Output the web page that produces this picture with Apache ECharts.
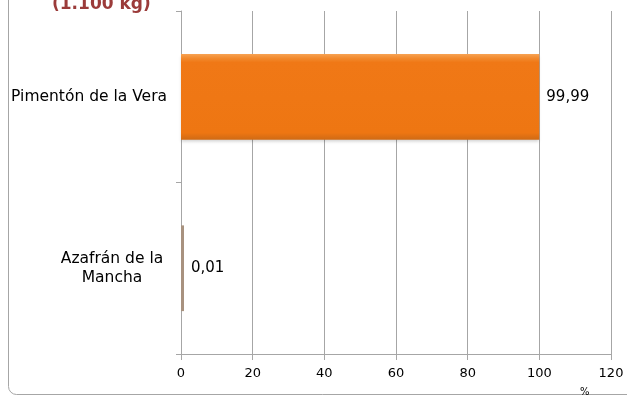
<!DOCTYPE html>
<html>
<head>
<meta charset="utf-8">
<script src="https://cdn.jsdelivr.net/npm/echarts@6/dist/echarts.min.js"></script>
<style>
  html, body { margin: 0; padding: 0; background: #fff; }
  #chart { width: 627px; height: 396px; }
</style>
</head>
<body>
<div id="chart"></div>
<script>
// Shares (%) of certified production by protected designation
const categories = ['Azafrán de la Mancha', 'Pimentón de la Vera'];
const shares = [0.01, 99.99];
const xTicks = [0, 20, 40, 60, 80, 100, 120];
const subtitle = '(1.100 kg)';
const unitLabel = '%';

const FONT = '"DejaVu Sans", Tahoma, sans-serif';
const GRID = '#a6a6a6';

const orangeFill = new echarts.graphic.LinearGradient(0, 0, 0, 1, [
  { offset: 0, color: '#f7a354' },
  { offset: 0.05, color: '#f28a2e' },
  { offset: 0.1, color: '#f07816' },
  { offset: 0.92, color: '#ee7612' },
  { offset: 1, color: '#d06a14' }
]);
const barStyles = [
  { color: '#a8927f' },
  { color: orangeFill, shadowColor: 'rgba(0,0,0,0.18)', shadowBlur: 3, shadowOffsetY: 2 }
];

const fmt = v => v.toFixed(2).replace('.', ',');

const chart = echarts.init(document.getElementById('chart'), null, { renderer: 'canvas' });
chart.setOption({
  animation: false,
  backgroundColor: '#fff',
  grid: { left: 181, right: 16, top: 11, bottom: 42, containLabel: false },
  xAxis: {
    type: 'value',
    min: xTicks[0],
    max: xTicks[xTicks.length - 1],
    interval: xTicks[1] - xTicks[0],
    axisLine: { show: true, lineStyle: { color: GRID, width: 1 } },
    axisTick: { show: true, length: 6, lineStyle: { color: GRID } },
    splitLine: { show: true, lineStyle: { color: GRID, width: 1 } },
    axisLabel: { color: '#000', fontFamily: FONT, fontSize: 13, margin: 13 }
  },
  yAxis: {
    type: 'category',
    data: categories,
    axisLine: { show: true, lineStyle: { color: GRID, width: 1 } },
    axisTick: { show: true, length: 5, alignWithLabel: false, lineStyle: { color: GRID } },
    splitLine: { show: false },
    axisLabel: {
      color: '#000',
      fontFamily: FONT,
      fontSize: 15.5,
      margin: 14,
      formatter: function (v) {
        if (v === 'Azafrán de la Mancha') {
          return '{c|Azafrán de la}\n{c|Mancha}';
        }
        return v;
      },
      rich: {
        c: { width: 110, align: 'center', fontFamily: FONT, fontSize: 15.5, color: '#000', lineHeight: 19 }
      }
    }
  },
  series: [{
    type: 'bar',
    data: shares.map((v, i) => ({ value: v, itemStyle: barStyles[i] })),
    barCategoryGap: '50%',
    barMinHeight: 3,
    label: {
      show: true,
      position: 'right',
      distance: 7,
      color: '#000',
      fontFamily: FONT,
      fontSize: 15,
      formatter: p => fmt(p.value)
    }
  }],
  graphic: [
    {
      type: 'rect',
      silent: true,
      shape: { x: 8.5, y: -40, width: 700, height: 434.5, r: 8 },
      style: { fill: 'none', stroke: GRID, lineWidth: 1 },
      z: -1
    },
    {
      type: 'text',
      left: 52,
      top: -4,
      style: { text: subtitle, fill: '#9b3b3a', font: 'bold 17px ' + FONT }
    },
    {
      type: 'text',
      left: 580,
      top: 387,
      style: { text: unitLabel, fill: '#000', font: '10px ' + FONT }
    }
  ]
});
</script>
</body>
</html>
